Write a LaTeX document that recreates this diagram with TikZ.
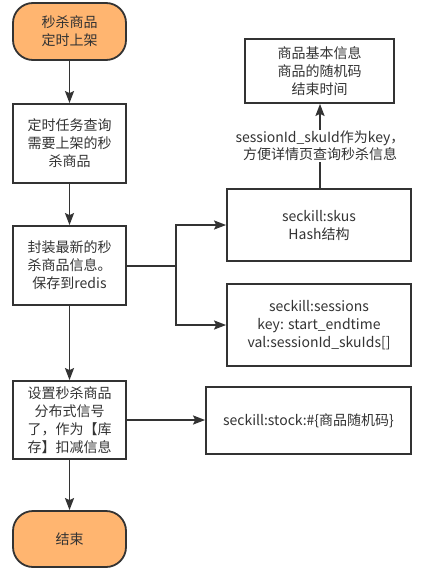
\documentclass[tikz,border=0pt]{standalone}
\usepackage{fontspec}
\setmainfont{Noto Sans CJK SC}
\usetikzlibrary{arrows.meta}
\definecolor{ln}{HTML}{333333}
\definecolor{org}{HTML}{FFB570}
\tikzset{
  box/.style={draw=ln, line width=1.8pt, fill=white, text=ln, align=center, inner sep=2pt, font=\fontsize{14}{18}\selectfont},
  term/.style={box, fill=org, rounded corners=20pt},
  conn/.style={draw=ln, line width=1.8pt, -{Stealth[length=12pt,width=9pt,inset=2pt]}},
  plain/.style={draw=ln, line width=1.8pt},
}
\begin{document}
\begin{tikzpicture}[x=1pt,y=-1pt]
\useasboundingbox (0,0) rectangle (421,572);
\node[term, minimum width=113pt, minimum height=57pt] (start) at (69.5,31.5) {秒杀商品\\定时上架};
\node[box, minimum width=113pt, minimum height=79pt] (query) at (69.5,143.5) {定时任务查询\\需要上架的秒\\杀商品};
\node[box, minimum width=113pt, minimum height=79pt] (save) at (69.5,265.5) {封装最新的秒\\杀商品信息。\\保存到redis};
\node[box, minimum width=113pt, minimum height=78pt] (sig) at (69.5,420) {设置秒杀商品\\分布式信号\\了，作为【库\\存】扣减信息};
\node[term, minimum width=113pt, minimum height=56pt] (end) at (69.5,539) {结束};
\node[box, minimum width=149pt, minimum height=64pt] (info) at (319.5,71) {商品基本信息\\商品的随机码\\结束时间};
\node[box, minimum width=184pt, minimum height=72pt] (skus) at (319,225) {seckill:skus\\Hash结构};
\node[box, minimum width=184pt, minimum height=82pt] (sess) at (319,325) {seckill:sessions\\key: start\_endtime\\val:sessionId\_skuIds[]};
\node[box, minimum width=205pt, minimum height=67pt] (stock) at (308.5,420.5) {seckill:stock:\#\{商品随机码\}};
\coordinate (j) at (176,266);
\draw[conn] (start) -- (query);
\draw[conn] (query) -- (save);
\draw[conn] (save) -- (sig);
\draw[conn] (sig) -- (end);
\draw[plain] (save.east |- j) -- (j);
\draw[conn] (j) |- (skus.west |- 0,225);
\draw[conn] (j) |- (sess.west |- 0,325);
\draw[conn] (sig.east) -- (stock.west |- sig.east);
\draw[conn] (skus.north -| 320,0) -- node[fill=white, text=ln, align=center, inner sep=1pt, font=\fontsize{14}{17}\selectfont]{sessionId\_skuId作为key，\\方便详情页查询秒杀信息} (info.south -| 320,0);
\end{tikzpicture}
\end{document}
